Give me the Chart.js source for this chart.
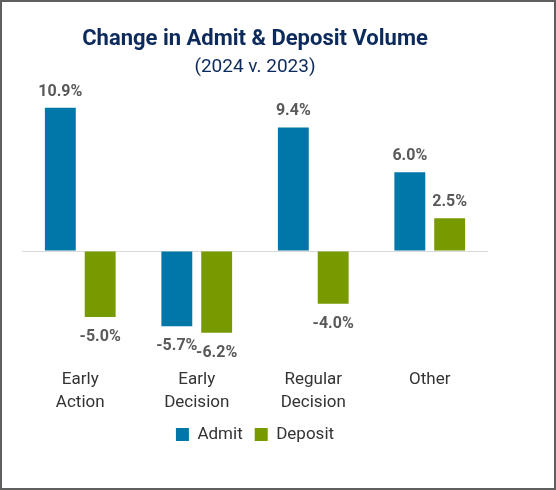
<!DOCTYPE html>
<html>
<head>
<meta charset="utf-8">
<script src="https://cdn.jsdelivr.net/npm/chart.js@4/dist/chart.umd.min.js"></script>
<style>
  body { margin: 0; background: #fff; }
  #wrap { width: 556px; height: 490px; box-sizing: border-box; border: 2px solid #5f5f5f; position: relative; }
</style>
</head>
<body>
<div id="wrap"><canvas id="chart"></canvas></div>
<script>
// データ
const categories = [['Early', 'Action'], ['Early', 'Decision'], ['Regular', 'Decision'], 'Other'];
const admit = [10.9, -5.7, 9.4, 6.0];
const deposit = [-5.0, -6.2, -4.0, 2.5];
const seriesNames = ['Admit', 'Deposit'];

// バーの上下に値を表示
const valueLabels = {
  id: 'valueLabels',
  afterDatasetsDraw(chart) {
    const ctx = chart.ctx;
    ctx.save();
    ctx.font = 'bold 16px Roboto';
    ctx.fillStyle = '#595959';
    ctx.textAlign = 'center';
    ctx.textBaseline = 'middle';
    chart.data.datasets.forEach((ds, i) => {
      chart.getDatasetMeta(i).data.forEach((bar, j) => {
        const v = ds.data[j];
        const y = v >= 0 ? bar.y - 16 : bar.y + 20;
        ctx.fillText(v.toFixed(1) + '%', bar.x, y);
      });
    });
    ctx.restore();
  }
};

new Chart(document.getElementById('chart'), {
  type: 'bar',
  data: {
    labels: categories,
    datasets: [
      { label: seriesNames[0], data: admit, backgroundColor: '#0077a8', categoryPercentage: 0.684, barPercentage: 0.775 },
      { label: seriesNames[1], data: deposit, backgroundColor: '#769a00', categoryPercentage: 0.684, barPercentage: 0.775 }
    ]
  },
  options: {
    responsive: true,
    maintainAspectRatio: false,
    animation: false,
    layout: { padding: { left: 20, right: 66, top: 0, bottom: 35 } },
    plugins: {
      title: {
        display: true,
        text: 'Change in Admit & Deposit Volume',
        color: '#0c2a5b',
        font: { family: 'Roboto', size: 22, weight: 'bold' },
        padding: { top: 24, bottom: 3 }
      },
      subtitle: {
        display: true,
        text: '(2024 v. 2023)',
        color: '#0c2a5b',
        font: { family: 'Roboto', size: 19, weight: 'normal' },
        padding: { bottom: 15 }
      },
      legend: {
        position: 'bottom',
        labels: {
          boxWidth: 13,
          boxHeight: 13,
          padding: 12,
          color: '#333',
          font: { family: 'Roboto', size: 17 }
        }
      },
      tooltip: { enabled: false }
    },
    scales: {
      x: {
        grid: { display: false, drawTicks: false },
        border: { display: false },
        ticks: { color: '#333', padding: 11, font: { family: 'Roboto', size: 17, lineHeight: 1.4 } },
        // 凡例との間隔を詰める
        afterFit: (s) => { s.height -= 12; }
      },
      y: {
        min: -8,
        max: 12,
        ticks: { display: false, stepSize: 2 },
        border: { display: false },
        grid: {
          drawTicks: false,
          color: (c) => c.tick && c.tick.value === 0 ? '#d9d9d9' : 'rgba(0,0,0,0)'
        }
      }
    }
  },
  plugins: [valueLabels]
});
</script>
</body>
</html>
